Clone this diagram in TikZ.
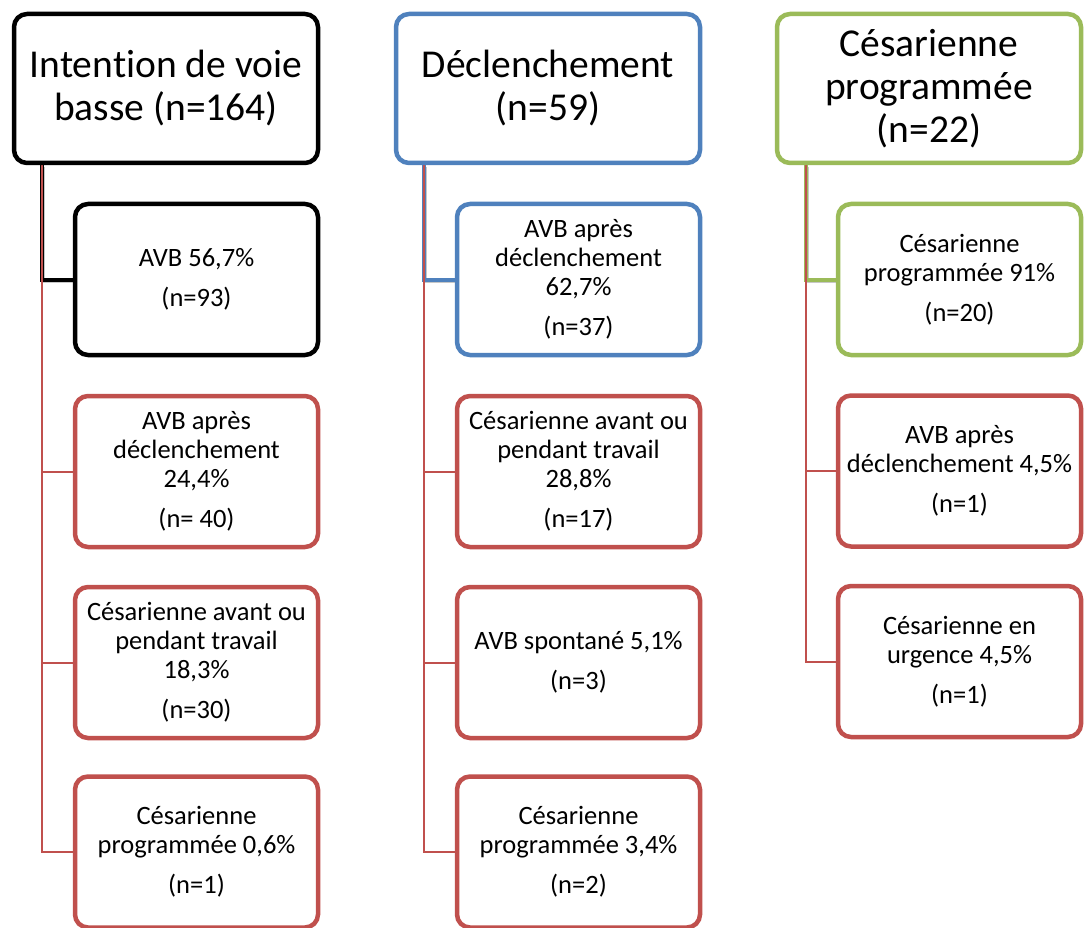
\documentclass[tikz,border=0pt]{standalone}
\usepackage{fontspec}
\setmainfont{Carlito}[Ligatures=NoCommon]
\usetikzlibrary{backgrounds}
\definecolor{cblack}{HTML}{000000}
\definecolor{cblue}{HTML}{4F81BD}
\definecolor{cgreen}{HTML}{9BBB59}
\definecolor{cred}{HTML}{C0504D}
\tikzset{
  box/.style={draw, line width=4.5pt, rounded corners=13pt, fill=white, inner sep=0pt, align=center, text=black},
  topbox/.style={box, minimum width=304pt, minimum height=149pt, font=\fontsize{39.5}{43}\selectfont},
  childbox/.style={box, minimum width=243pt, minimum height=151pt, font=\fontsize{26.5}{29}\selectfont},
  mainlink/.style={line width=4pt, preaction={draw=black!22, line width=4pt, transform canvas={shift={(1.5pt,-1.5pt)}}}},
  sublink/.style={cred, line width=2pt},
}
\begin{document}
\begin{tikzpicture}[x=1pt,y=-1pt]
\useasboundingbox (0,0) rectangle (1084,928);
% column 1
\node[topbox, draw=cblack] (t1) at (166,88.5) {Intention de voie\\basse (n=164)};
\node[childbox, draw=cblack] (a1) at (196.5,279.5) {AVB 56,7\%\\[11pt](n=93)};
\node[childbox, draw=cred] (a2) at (196.5,471.5) {AVB après\\déclenchement\\24,4\%\\[11pt](n= 40)};
\node[childbox, draw=cred] (a3) at (196.5,662.5) {Césarienne avant ou\\pendant travail\\18,3\%\\[11pt](n=30)};
\node[childbox, draw=cred] (a4) at (196.5,852) {Césarienne\\programmée 0,6\%\\[11pt](n=1)};
% column 2
\node[topbox, draw=cblue] (t2) at (548,88.5) {Déclenchement\\(n=59)};
\node[childbox, draw=cblue] (b1) at (578.5,279.5) {AVB après\\déclenchement\\62,7\%\\[11pt](n=37)};
\node[childbox, draw=cred] (b2) at (578.5,471.5) {Césarienne avant ou\\pendant travail\\28,8\%\\[11pt](n=17)};
\node[childbox, draw=cred] (b3) at (578.5,662.5) {AVB spontané 5,1\%\\[11pt](n=3)};
\node[childbox, draw=cred] (b4) at (578.5,852) {Césarienne\\programmée 3,4\%\\[11pt](n=2)};
% column 3
\node[topbox, draw=cgreen] (t3) at (929,88.5) {Césarienne\\programmée\\(n=22)};
\node[childbox, draw=cgreen] (c1) at (959.5,279.5) {Césarienne\\programmée 91\%\\[11pt](n=20)};
\node[childbox, draw=cred] (c2) at (959.5,471) {AVB après\\déclenchement 4,5\%\\[11pt](n=1)};
\node[childbox, draw=cred] (c3) at (959.5,661.5) {Césarienne en\\urgence 4,5\%\\[11pt](n=1)};
\begin{scope}[on background layer]
  \draw[mainlink, cblack] ([xshift=30pt]t1.south west) |- (a1.west);
  \draw[sublink] ([xshift=30pt]t1.south west) |- (a4.west);
  \draw[sublink] ([xshift=30pt]t1.south west) |- (a2.west);
  \draw[sublink] ([xshift=30pt]t1.south west) |- (a3.west);
  \draw[mainlink, cblue] ([xshift=30pt]t2.south west) |- (b1.west);
  \draw[sublink] ([xshift=30pt]t2.south west) |- (b4.west);
  \draw[sublink] ([xshift=30pt]t2.south west) |- (b2.west);
  \draw[sublink] ([xshift=30pt]t2.south west) |- (b3.west);
  \draw[mainlink, cgreen] ([xshift=31pt]t3.south west) |- (c1.west);
  \draw[sublink] ([xshift=31pt]t3.south west) |- (c3.west);
  \draw[sublink] ([xshift=31pt]t3.south west) |- (c2.west);
\end{scope}
\end{tikzpicture}
\end{document}
